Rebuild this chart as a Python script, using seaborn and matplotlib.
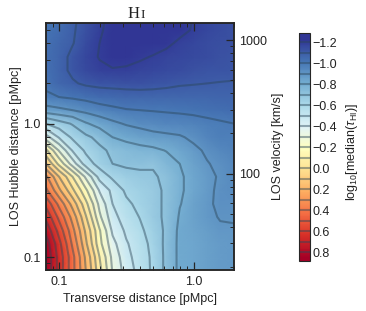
import numpy as np
import matplotlib
matplotlib.use('Agg')
import matplotlib.pyplot as plt
from matplotlib.ticker import FixedLocator, LogLocator, NullFormatter
import seaborn as sns

# Grid the map was read on
transverse = [0.08, 0.1, 0.126, 0.158, 0.2, 0.25, 0.316, 0.4, 0.5, 0.63, 0.79, 1.0, 1.26, 1.58, 2.0]
hubble = [0.08, 0.1, 0.126, 0.158, 0.2, 0.25, 0.316, 0.4, 0.5, 0.63, 0.79, 1.0, 1.26, 1.58, 2.0,
          2.5, 3.16, 4.0, 5.0, 5.7]

# log10(median tau), one row per hubble value
log_tau = [
    [0.88, 0.66, 0.43, 0.20, -0.07, -0.31, -0.45, -0.54, -0.62, -0.73, -0.825, -0.84, -0.86, -0.875, -0.885],
    [0.88, 0.66, 0.43, 0.18, -0.10, -0.33, -0.47, -0.55, -0.62, -0.73, -0.825, -0.84, -0.86, -0.875, -0.885],
    [0.85, 0.63, 0.38, 0.12, -0.17, -0.37, -0.49, -0.56, -0.63, -0.73, -0.825, -0.84, -0.86, -0.875, -0.885],
    [0.77, 0.56, 0.33, 0.08, -0.19, -0.42, -0.52, -0.58, -0.65, -0.72, -0.825, -0.845, -0.87, -0.89, -0.895],
    [0.67, 0.47, 0.26, 0.01, -0.28, -0.47, -0.55, -0.605, -0.67, -0.72, -0.81, -0.85, -0.885, -0.905, -0.905],
    [0.57, 0.37, 0.16, -0.07, -0.33, -0.50, -0.58, -0.63, -0.67, -0.72, -0.795, -0.85, -0.885, -0.92, -0.92],
    [0.42, 0.22, 0.02, -0.18, -0.41, -0.53, -0.62, -0.65, -0.67, -0.72, -0.785, -0.84, -0.88, -0.92, -0.93],
    [0.32, 0.10, -0.10, -0.32, -0.54, -0.62, -0.66, -0.68, -0.69, -0.72, -0.785, -0.84, -0.88, -0.91, -0.94],
    [0.10, -0.13, -0.35, -0.55, -0.64, -0.70, -0.72, -0.72, -0.71, -0.76, -0.80, -0.85, -0.895, -0.92, -0.95],
    [-0.08, -0.31, -0.51, -0.62, -0.68, -0.72, -0.75, -0.77, -0.78, -0.805, -0.84, -0.88, -0.915, -0.95, -0.97],
    [-0.36, -0.51, -0.62, -0.68, -0.73, -0.80, -0.83, -0.85, -0.87, -0.88, -0.89, -0.92, -0.96, -0.98, -0.985],
    [-0.60, -0.66, -0.71, -0.79, -0.84, -0.88, -0.91, -0.93, -0.945, -0.955, -0.96, -0.97, -0.98, -0.99, -1.0],
    [-0.86, -0.88, -0.90, -0.93, -0.96, -0.98, -0.995, -1.0, -1.005, -1.01, -1.015, -1.02, -1.03, -1.04, -1.05],
    [-0.985, -1.0, -1.015, -1.03, -1.05, -1.055, -1.06, -1.065, -1.065, -1.065, -1.06, -1.06, -1.065, -1.07, -1.07],
    [-1.02, -1.06, -1.09, -1.115, -1.125, -1.13, -1.135, -1.135, -1.13, -1.12, -1.11, -1.105, -1.10, -1.097, -1.095],
    [-1.03, -1.07, -1.12, -1.16, -1.185, -1.195, -1.19, -1.18, -1.17, -1.16, -1.15, -1.14, -1.13, -1.125, -1.12],
    [-1.04, -1.07, -1.12, -1.17, -1.205, -1.225, -1.225, -1.21, -1.195, -1.18, -1.17, -1.16, -1.15, -1.14, -1.13],
    [-1.03, -1.06, -1.095, -1.155, -1.20, -1.235, -1.25, -1.25, -1.24, -1.215, -1.185, -1.17, -1.155, -1.145, -1.135],
    [-1.02, -1.05, -1.09, -1.14, -1.19, -1.23, -1.26, -1.27, -1.265, -1.25, -1.225, -1.19, -1.165, -1.15, -1.14],
    [-1.01, -1.04, -1.085, -1.14, -1.185, -1.23, -1.265, -1.28, -1.28, -1.26, -1.23, -1.195, -1.17, -1.15, -1.14],
]

contour_levels = [-1.2, -1.1, -1.0, -0.9, -0.8, -0.7, -0.6, -0.5, -0.4, -0.3, -0.2, -0.1, 0.0,
                  0.1, 0.2, 0.3, 0.4, 0.5, 0.6, 0.7, 0.8]
cbar_ticks = [-1.2, -1.0, -0.8, -0.6, -0.4, -0.2, 0.0, 0.2, 0.4, 0.6, 0.8]

sns.set_style('ticks')
plt.rcParams['font.family'] = ['Liberation Sans', 'DejaVu Sans']
plt.rcParams['mathtext.fontset'] = 'custom'
plt.rcParams['mathtext.rm'] = 'Liberation Sans'
plt.rcParams['mathtext.it'] = 'Liberation Sans:italic'
plt.rcParams['axes.axisbelow'] = False
plt.rcParams['text.color'] = '#222222'
plt.rcParams['axes.labelcolor'] = '#222222'
plt.rcParams['xtick.labelcolor'] = '#222222'
plt.rcParams['ytick.labelcolor'] = '#222222'

W, H = 366, 311
fig = plt.figure(figsize=(W / 100, H / 100), dpi=100)
ax = fig.add_axes([46 / W, 1 - 270 / H, 188 / W, 247 / H])

cmap = sns.color_palette('RdYlBu_r', as_cmap=True)
mesh = ax.pcolormesh(transverse, hubble, log_tau, shading='gouraud', cmap=cmap, vmin=-1.23, vmax=0.85)
lines = ax.contour(transverse, hubble, log_tau, levels=contour_levels, colors='#2b4658',
                   linewidths=1.5, alpha=0.45, linestyles='solid')

ax.set_xscale('log')
ax.set_yscale('log')
ax.set_xlim(0.08, 2.0)
ax.set_ylim(0.08, 5.67)
ax.xaxis.set_major_locator(FixedLocator([0.1, 1.0]))
ax.yaxis.set_major_locator(FixedLocator([0.1, 1.0]))
ax.set_xticklabels(['0.1', '1.0'])
ax.set_yticklabels(['0.1', '1.0'])
for axis in (ax.xaxis, ax.yaxis):
    axis.set_minor_locator(LogLocator(base=10, subs=range(2, 10), numticks=12))
    axis.set_minor_formatter(NullFormatter())
ax.tick_params(which='major', direction='in', length=6, width=0.9, top=True, labelsize=9, pad=4)
ax.tick_params(which='minor', direction='in', length=3, width=0.7, top=True)
ax.set_xlabel('Transverse distance [pMpc]', fontsize=9, labelpad=4)
ax.set_ylabel('LOS Hubble distance [pMpc]', fontsize=9, labelpad=1)

# Right axis is velocity, 100 km/s sits at hubble distance 0.42
vel = ax.twinx()
vel.set_yscale('log')
vel.set_ylim(0.08 * 237, 5.67 * 237)
vel.yaxis.set_major_locator(FixedLocator([100, 1000]))
vel.set_yticklabels(['100', '1000'])
vel.yaxis.set_minor_locator(LogLocator(base=10, subs=range(2, 10), numticks=12))
vel.yaxis.set_minor_formatter(NullFormatter())
vel.tick_params(which='major', direction='in', length=6, width=0.9, labelsize=9, pad=4)
vel.tick_params(which='minor', direction='in', length=3, width=0.7)
vel.set_ylabel('LOS velocity [km/s]', fontsize=9, labelpad=3)

for side in ax.spines.values():
    side.set_linewidth(1.1)
for side in vel.spines.values():
    side.set_linewidth(1.1)

serif = ['Liberation Serif', 'DejaVu Serif']
fig.text(140 / W, 1 - 18 / H, 'H', family=serif, fontsize=12, ha='right', va='baseline')
fig.text(140.5 / W, 1 - 18 / H, 'I', family=serif, fontsize=9.5, ha='left', va='baseline')

# Bar runs a little past the colour limits, like the reference
cax = fig.add_axes([299 / W, 1 - 261 / H, 11 / W, 228 / H])
cbar = fig.colorbar(mesh, cax=cax, ticks=cbar_ticks, boundaries=np.linspace(-1.29, 0.883, 257))
cbar.add_lines(lines)
cax.invert_yaxis()
cax.minorticks_off()
cax.tick_params(direction='in', length=0, labelsize=9, pad=2)
cbar.ax.set_yticklabels(['\u22121.2', '\u22121.0', '\u22120.8', '\u22120.6', '\u22120.4', '\u22120.2',
                         '0.0', '0.2', '0.4', '0.6', '0.8'])
fig.text(352 / W, 1 - 152 / H, r'log$_{10}$[median($\tau_{\rm HI}$)]', rotation=90, fontsize=9,
         ha='center', va='center')

plt.savefig('out.png', dpi=100)
